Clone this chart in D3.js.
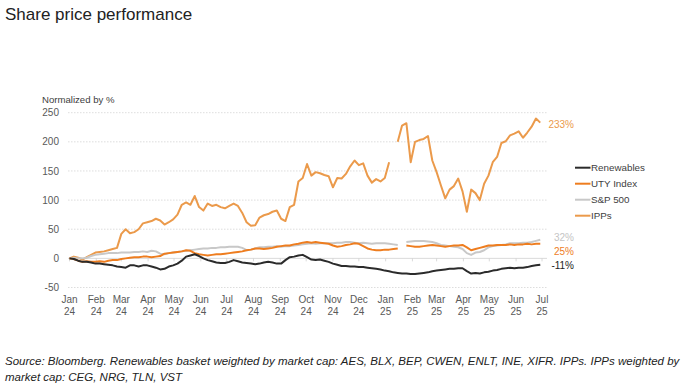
<!DOCTYPE html>
<html>
<head>
<meta charset="utf-8">
<script src="https://cdn.jsdelivr.net/npm/d3@7"></script>
<style>
  html, body { margin: 0; padding: 0; background: #fff; }
  svg { display: block; font-family: "Liberation Sans", Arial, sans-serif; }
</style>
</head>
<body>
<svg id="chart" width="681" height="383"></svg>
<script>
// ---------- DATA ----------
const title = "Share price performance";
const yAxisTitle = "Normalized by %";
const sourceLines = [
  "Source: Bloomberg. Renewables basket weighted by market cap: AES, BLX, BEP, CWEN, ENLT, INE, XIFR. IPPs. IPPs weighted by",
  "market cap: CEG, NRG, TLN, VST"
];
const yTicks = [-50, 0, 50, 100, 150, 200, 250];
const monthTicks = d3.utcMonth.range(new Date(Date.UTC(2024, 0, 1)), new Date(Date.UTC(2025, 6, 2)));
// observation dates: every 5 days from 1 Jan 2024
const dates = d3.utcDay.range(new Date(Date.UTC(2024, 0, 1)), new Date(Date.UTC(2025, 5, 30)), 5);

const seriesNames = ["Renewables", "UTY Index", "S&P 500", "IPPs"];
const seriesColors = ["#2b2b2b", "#ee7d1f", "#c8c8c8", "#eb9a4b"];

const renewables = [0,-1,-4,-6,-6,-7,-9,-9,-10,-11, -12,-14,-15,-16,-12,-12,-14,-12,-12,-14, -16,-19,-18,-14,-12,-9,-4,3,5,
  7,4,0,-3,-5,-7,-8,-8,-6,-3, -5,-7,-8,-9,-10,-9,-7,-6,-7,-9, -9,-3,2,3,5,6,2,-2,-3,-2,
  -4,-6,-9,-11,-13,-13,-14,-14,-15,-15, -16,-17,-18,-19,-21,-22,-24,-25,-26,-26,
  -27,-27,-26,-25,-24,-22,-21,-20,-19,-18, -18,-17,-17,-22,-26,-25,-26,-24,-23,-21,
  -20,-18,-17, -16,-17,-16,-16,-15,-13,-12,-11];
const uty = [0,-1,-4,-6,-5,-6,-6,-5,-6,-4, -3,-3,-1,0,1,2,2,3,3,2, 3,4,8,9,10,11,12,14,13,
  9,7,6,5,6,7,7,8,9,10, 11,12,14,15,17,17,16,17,18,20, 21,22,22,24,25,27,28,27,28,27,
  26,25,22,20,21,23,24,26,25,21, 17,15,14,14,15,15,16,17,null,22,
  21,20,20,21,22,23,22,21,20,21, 22,22,23,19,14,16,18,20,22,22,
  23,23,23, 24,23,24,24,25,24,25,25];
const sp500 = [0,1,0,0,1,4,6,7,8,9, 9,9,10,10,10,11,11,12,11,13, 12,8,7,9,10,11,12,13,14,
  15,16,17,17,18,18,19,19,20,20, 20,18,14,15,17,19,19,20,20,21, 20,21,21,22,23,24,25,26,25,26,
  26,26,26,27,27,28,28,27,26,27, 26,25,26,26,26,25,24,23,null,28,
  29,30,30,30,29,28,26,23,22,21, 20,19,16,9,6,10,11,14,19,21,
  22,23,24, 26,26,26,27,27,28,30,32];
const ipps = [0,3,1,-2,2,6,10,11,12,14, 16,18,42,50,43,45,50,60,62,64, 68,65,58,62,67,75,92,96,92,
  107,88,82,94,90,92,88,86,90,94, 90,78,62,56,57,70,74,76,80,82, 68,64,88,92,132,138,162,142,148,146,
  143,141,122,138,137,145,158,168,160,163, 142,130,136,132,138,165,null,200,228,232,
  165,200,203,205,210,168,148,125,103,118, 124,137,115,80,118,112,100,128,142,165,
  174,198,201, 211,214,218,207,216,226,240,233];
const endLabels = ["-11%", "25%", "32%", "233%"];

// ---------- CHART ----------
const svg = d3.select("#chart");
const x = d3.scaleUtc()
  .domain([new Date(Date.UTC(2024, 0, 1)), new Date(Date.UTC(2025, 6, 1))])
  .range([69.5, 542]);
const y = d3.scaleLinear().domain([-50, 250]).range([287.5, 112.7]);
const gridX0 = 68, gridX1 = 547;

svg.append("text").attr("x", 5).attr("y", 19.5)
  .attr("font-size", 17).attr("fill", "#222").text(title);

svg.append("text").attr("x", 42).attr("y", 103)
  .attr("font-size", 9.6).attr("fill", "#404040").text(yAxisTitle);

// gridlines
svg.append("g").selectAll("line").data(yTicks.filter(d => d !== 0)).join("line")
  .attr("x1", gridX0).attr("x2", gridX1)
  .attr("y1", d => y(d)).attr("y2", d => y(d))
  .attr("stroke", "#d4d4d4").attr("stroke-width", 0.8)
  .attr("stroke-dasharray", "1.5,1.5");

// y tick labels
svg.append("g").selectAll("text").data(yTicks).join("text")
  .attr("x", 59).attr("y", d => y(d) + 3.6)
  .attr("text-anchor", "end").attr("font-size", 10).attr("fill", "#595959")
  .text(d => d);

// zero axis with month ticks
const axis = svg.append("g");
axis.append("line").attr("x1", gridX0).attr("x2", gridX1)
  .attr("y1", y(0)).attr("y2", y(0)).attr("stroke", "#d0d0d0").attr("stroke-width", 0.8);
axis.selectAll("line.tk").data(monthTicks).join("line").attr("class", "tk")
  .attr("x1", d => x(d)).attr("x2", d => x(d))
  .attr("y1", y(0)).attr("y2", y(0) + 3)
  .attr("stroke", "#d0d0d0").attr("stroke-width", 0.8);

// month labels
const fmtM = d3.utcFormat("%b"), fmtY = d3.utcFormat("%y");
const lab = svg.append("g").attr("font-size", 10).attr("fill", "#595959").attr("text-anchor", "middle");
lab.selectAll("text.m").data(monthTicks).join("text").attr("class", "m")
  .attr("x", d => x(d)).attr("y", 303).text(d => fmtM(d));
lab.selectAll("text.yr").data(monthTicks).join("text").attr("class", "yr")
  .attr("x", d => x(d)).attr("y", 315).text(d => fmtY(d));

// lines
const seriesValues = [renewables, uty, sp500, ipps];
const line = d3.line()
  .defined(d => d.v !== null)
  .x(d => x(d.date)).y(d => y(d.v));
const drawOrder = [3, 2, 1, 0];
drawOrder.forEach(i => {
  const pts = dates.map((dt, k) => ({ date: dt, v: seriesValues[i][k] === undefined ? null : seriesValues[i][k] }));
  svg.append("path").datum(pts)
    .attr("fill", "none").attr("stroke", seriesColors[i])
    .attr("stroke-width", 2).attr("stroke-linejoin", "round")
    .attr("d", line);
});

// end labels
const endColors = ["#222", "#ee7d1f", "#c4c4c4", "#eb9a4b"];
const endY = [265.5, 251, 237.5, 124.5];
svg.append("g").selectAll("text").data(endLabels).join("text")
  .attr("x", 574).attr("y", (d, i) => endY[i] + 3.5)
  .attr("text-anchor", "end").attr("font-size", 10)
  .attr("fill", (d, i) => endColors[i])
  .text(d => d);

// legend
const leg = svg.append("g");
seriesNames.forEach((n, i) => {
  const ly = 167.7 + i * 16;
  leg.append("line").attr("x1", 575).attr("x2", 590.5).attr("y1", ly).attr("y2", ly)
    .attr("stroke", seriesColors[i]).attr("stroke-width", 2);
  leg.append("text").attr("x", 591).attr("y", ly + 3.5)
    .attr("font-size", 9.8).attr("fill", "#404040").text(n);
});

// source
svg.append("g").selectAll("text").data(sourceLines).join("text")
  .attr("x", 5).attr("y", (d, i) => 365 + i * 15.5)
  .attr("font-size", 11.5).attr("font-style", "italic").attr("fill", "#222")
  .text(d => d);
</script>
</body>
</html>
